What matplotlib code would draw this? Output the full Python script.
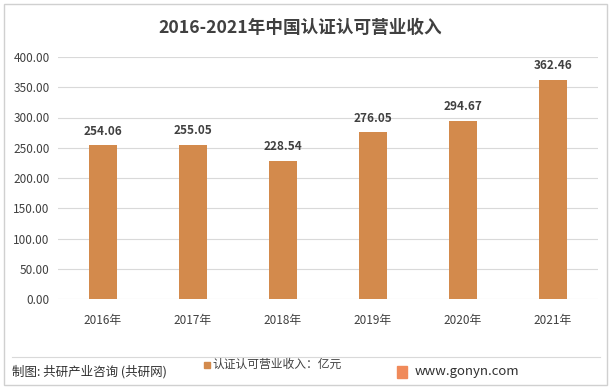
import matplotlib.pyplot as plt
from matplotlib.patches import Rectangle

plt.rcParams['font.family'] = ['Noto Sans CJK SC', 'DejaVu Sans']

years = ['2016年', '2017年', '2018年', '2019年', '2020年', '2021年']
revenue = [254.06, 255.05, 228.54, 276.05, 294.67, 362.46]
yticks = [0, 50, 100, 150, 200, 250, 300, 350, 400]

bar_color = '#D38A4C'
W, H = 613, 390

fig = plt.figure(figsize=(W / 100, H / 100), dpi=100)

# outer frame
fig.patches.append(Rectangle((4 / W, 5 / H), 603 / W, 381 / H, transform=fig.transFigure,
                             fill=False, edgecolor='#D0D0D0', linewidth=1))

ax = fig.add_axes([58 / W, 1 - 299 / H, 540 / W, (299 - 57) / H])
ax.bar(range(len(years)), revenue, width=0.31, color=bar_color, zorder=2)
for i, v in enumerate(revenue):
    ax.text(i, v + 12, f'{v:.2f}', ha='center', va='bottom', fontsize=8.5,
            fontweight='bold', color='#404040')

ax.set_ylim(0, 400)
ax.set_xlim(-0.5, len(years) - 0.5)
ax.set_yticks(yticks)
ax.set_yticklabels([f'{t:.2f}' for t in yticks], fontsize=8.5, color='#404040')
ax.set_xticks(range(len(years)))
ax.set_xticklabels(years, fontsize=8.5, color='#404040')
ax.tick_params(axis='y', length=0, pad=6)
ax.tick_params(axis='x', length=0, pad=11)
ax.grid(axis='y', color='#D9D9D9', linewidth=0.8, zorder=0)
for s in ax.spines.values():
    s.set_visible(False)

fig.text(300 / W, 1 - 28 / H, '2016-2021年中国认证认可营业收入', ha='center', va='center',
         fontsize=12.7, fontweight='bold', color='#404040')

# footer
fig.add_artist(plt.Line2D([12 / W, 600 / W], [1 - 357 / H] * 2, color='#D9D9D9', linewidth=0.8))
fig.text(12 / W, 1 - 372 / H, '制图: 共研产业咨询 (共研网)', ha='left', va='center',
         fontsize=9, color='#303030')
fig.patches.append(Rectangle((204 / W, 1 - 368 / H), 6 / W, 6 / H, transform=fig.transFigure,
                             color=bar_color))
fig.text(212 / W, 1 - 364 / H, '认证认可营业收入：亿元', ha='left', va='center',
         fontsize=8.5, color='#404040')
fig.patches.append(Rectangle((397 / W, 1 - 378 / H), 10 / W, 12 / H, transform=fig.transFigure,
                             color='#F08A5A'))
fig.text(415 / W, 1 - 372 / H, 'www.gonyn.com', ha='left', va='center',
         fontsize=9.5, color='#303030')

fig.savefig('out.png', dpi=100)
